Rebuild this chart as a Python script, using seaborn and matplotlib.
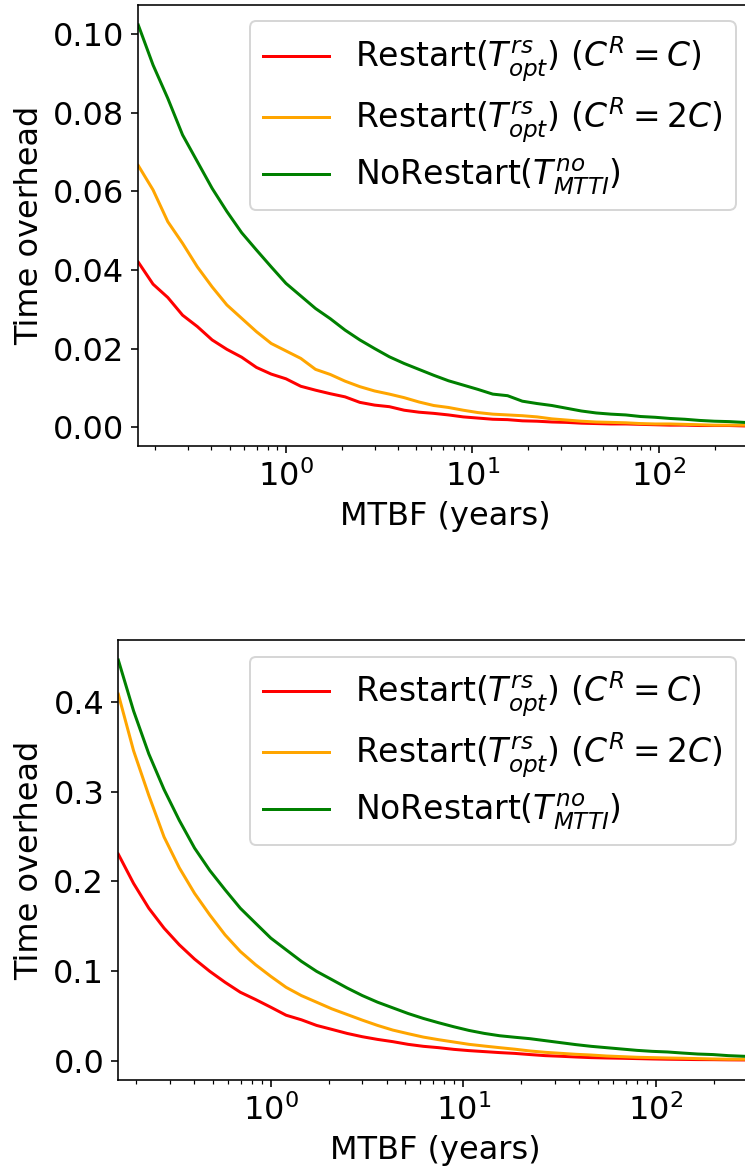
# Time overhead vs MTBF, two panels

import matplotlib
matplotlib.use('Agg')
import matplotlib.pyplot as plt
import pandas as pd
import seaborn as sns

mtbf = [0.162, 0.1944, 0.2333, 0.2799, 0.3359, 0.4031, 0.4837, 0.5805, 0.6966, 0.8359,
        1.003, 1.204, 1.445, 1.734, 2.080, 2.496, 2.996, 3.595, 4.314, 5.177,
        6.212, 7.454, 8.945, 10.73, 12.88, 15.46, 18.55, 22.26, 26.71, 32.05,
        38.46, 46.16, 55.39, 66.46, 79.76, 95.71, 114.9, 137.8, 165.4, 198.5,
        238.2, 285.8, 342.9]

# painel de cima
top_rs_c = [0.0420, 0.0364, 0.0330, 0.0285, 0.0256, 0.0222, 0.0198, 0.0178, 0.0152, 0.0135,
            0.0123, 0.0104, 0.0094, 0.0085, 0.0077, 0.0063, 0.0056, 0.0052, 0.0043, 0.0038,
            0.0035, 0.0031, 0.0026, 0.0023, 0.0020, 0.0019, 0.0016, 0.0015, 0.0013, 0.0012,
            0.0010, 0.0009, 0.0008, 0.0008, 0.0007, 0.0006, 0.0005, 0.0005, 0.0004, 0.0004,
            0.0004, 0.0003, 0.0003]
top_rs_2c = [0.0666, 0.0604, 0.0523, 0.0468, 0.0408, 0.0357, 0.0311, 0.0277, 0.0243, 0.0213,
             0.0194, 0.0175, 0.0147, 0.0134, 0.0117, 0.0103, 0.0092, 0.0084, 0.0075, 0.0064,
             0.0055, 0.0050, 0.0043, 0.0037, 0.0033, 0.0031, 0.0029, 0.0026, 0.0021, 0.0018,
             0.0015, 0.0013, 0.0012, 0.0011, 0.0009, 0.0008, 0.0008, 0.0007, 0.0006, 0.0005,
             0.0005, 0.0005, 0.0004]
top_norestart = [0.1024, 0.0922, 0.0837, 0.0744, 0.0676, 0.0608, 0.0549, 0.0495, 0.0451, 0.0408,
                 0.0366, 0.0334, 0.0302, 0.0276, 0.0247, 0.0222, 0.0200, 0.0179, 0.0162, 0.0147,
                 0.0132, 0.0118, 0.0107, 0.0096, 0.0084, 0.0080, 0.0066, 0.0060, 0.0055, 0.0048,
                 0.0041, 0.0036, 0.0033, 0.0031, 0.0027, 0.0025, 0.0022, 0.0020, 0.0017, 0.0015,
                 0.0014, 0.0012, 0.0011]

# painel de baixo
bot_rs_c = [0.2302, 0.1976, 0.1699, 0.1477, 0.1291, 0.1132, 0.0995, 0.0873, 0.0762, 0.0681,
            0.0595, 0.0506, 0.0455, 0.0392, 0.0348, 0.0303, 0.0266, 0.0236, 0.0211, 0.0181,
            0.0159, 0.0144, 0.0125, 0.0111, 0.0100, 0.0089, 0.0080, 0.0067, 0.0055, 0.0048,
            0.0040, 0.0033, 0.0029, 0.0026, 0.0022, 0.0018, 0.0015, 0.0013, 0.0011, 0.0010,
            0.0008, 0.0007, 0.0006]
bot_rs_2c = [0.4086, 0.3456, 0.2957, 0.2494, 0.2150, 0.1865, 0.1624, 0.1402, 0.1217, 0.1069,
             0.0939, 0.0817, 0.0725, 0.0651, 0.0577, 0.0514, 0.0451, 0.0392, 0.0340, 0.0300,
             0.0262, 0.0233, 0.0207, 0.0181, 0.0162, 0.0144, 0.0127, 0.0107, 0.0092, 0.0081,
             0.0070, 0.0062, 0.0051, 0.0044, 0.0037, 0.0033, 0.0029, 0.0026, 0.0022, 0.0018,
             0.0015, 0.0015, 0.0013]
bot_norestart = [0.4467, 0.3900, 0.3420, 0.3023, 0.2679, 0.2370, 0.2120, 0.1905, 0.1699, 0.1532,
                 0.1366, 0.1236, 0.1107, 0.0995, 0.0903, 0.0810, 0.0725, 0.0651, 0.0588, 0.0525,
                 0.0470, 0.0422, 0.0377, 0.0336, 0.0303, 0.0277, 0.0260, 0.0244, 0.0222, 0.0200,
                 0.0178, 0.0159, 0.0144, 0.0129, 0.0114, 0.0103, 0.0096, 0.0084, 0.0073, 0.0067,
                 0.0055, 0.0048, 0.0044]

labels = [r'Restart($T^{rs}_{opt}$) ($C^R = C$)',
          r'Restart($T^{rs}_{opt}$) ($C^R = 2C$)',
          r'NoRestart($T^{no}_{MTTI}$)']
cores = ['red', 'orange', 'green']

plt.rcParams['font.size'] = 16

fig = plt.figure(figsize=(745/144, 1169/144), dpi=144)
ax1 = fig.add_axes([0.1856, 0.6185, 0.8238, 0.3773])
ax2 = fig.add_axes([0.1588, 0.0761, 0.8506, 0.3764])

paineis = [(ax1, [top_rs_c, top_rs_2c, top_norestart]),
           (ax2, [bot_rs_c, bot_rs_2c, bot_norestart])]

for ax, series in paineis:
    for vals, lab, cor in zip(series, labels, cores):
        df = pd.DataFrame({'MTBF': mtbf, 'overhead': vals})
        sns.lineplot(data=df, x='MTBF', y='overhead', color=cor, label=lab,
                     linewidth=1.5, ax=ax)
    ax.set_xscale('log')
    ax.set_xlim(mtbf[0], 316)
    ax.set_xlabel('MTBF (years)')
    ax.set_ylabel('Time overhead')
    ax.legend(loc='upper right', fontsize=16.5, labelspacing=0.35)

fig.savefig('out.png', dpi=144)
